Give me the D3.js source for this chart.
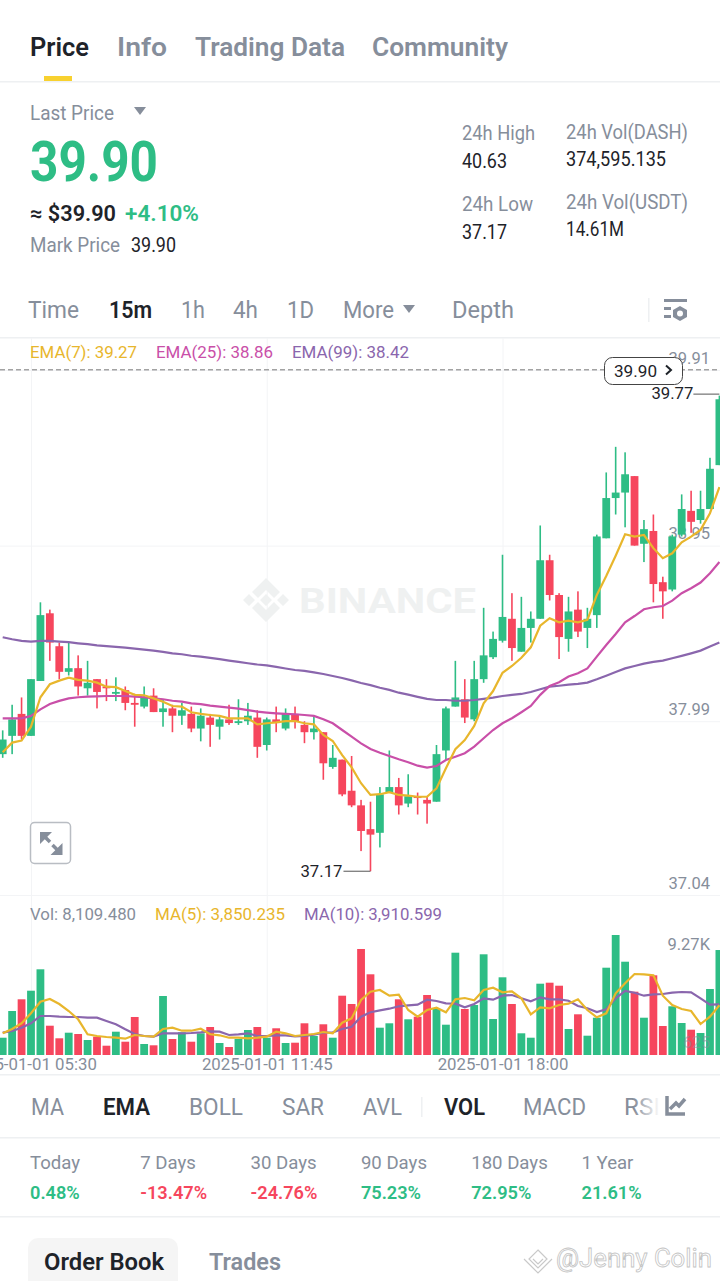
<!DOCTYPE html>
<html>
<head>
<meta charset="utf-8">
<script src="https://cdn.jsdelivr.net/npm/d3@7"></script>
<style>
  html, body { margin: 0; padding: 0; background: #fff; }
  svg { display: block; font-family: Roboto, "Noto Sans", sans-serif; }
  .tick line { stroke: #f3f4f6; }
  .domain { display: none; }
</style>
</head>
<body>
<div id="chart"></div>
<script>
const opens = [37.81,37.91,38.03,37.91,38.21,38.58,38.40,38.26,38.28,38.17,
  38.22,38.18,38.14,38.16,38.09,38.07,38.13,38.04,38.06,38.02,
  38.03,37.95,38.01,37.96,38.00,37.98,37.99,38.01,37.86,38.00,
  37.95,38.03,37.97,37.93,37.93,37.74,37.78,37.61,37.53,37.40,
  37.38,37.60,37.63,37.54,37.58,37.56,37.55,37.83,38.07,38.11,
  38.00,38.22,38.34,38.43,38.55,38.37,38.50,38.55,38.87,38.68,
  38.44,38.60,38.50,38.57,38.99,39.21,39.24,39.33,38.96,39.03,
  38.75,38.71,39.01,39.14,39.09,39.15,39.39];
const closes = [37.89,38.00,37.91,38.22,38.57,38.42,38.26,38.28,38.18,38.20,
  38.15,38.17,38.15,38.09,38.08,38.12,38.04,38.06,38.02,38.05,
  37.95,38.02,37.97,38.00,37.98,37.99,38.02,37.85,38.00,37.98,
  38.03,37.99,37.93,37.95,37.76,37.79,37.59,37.53,37.39,37.37,
  37.59,37.63,37.53,37.58,37.57,37.54,37.81,38.06,38.12,38.01,
  38.22,38.35,38.44,38.56,38.39,38.50,38.55,38.87,38.68,38.45,
  38.59,38.48,38.55,39.00,39.21,39.24,39.34,38.95,39.04,38.74,
  38.70,39.00,39.15,39.08,39.15,39.37,39.75];
const highs = [37.94,38.08,38.12,38.22,38.64,38.60,38.42,38.42,38.35,38.32,
  38.22,38.22,38.23,38.18,38.14,38.18,38.17,38.11,38.08,38.09,
  38.07,38.06,38.03,38.02,38.08,38.11,38.09,38.05,38.01,38.07,
  38.06,38.07,37.99,38.02,37.93,37.86,37.78,37.80,37.56,37.55,
  37.63,37.83,37.68,37.70,37.60,37.58,37.86,38.07,38.32,38.22,
  38.32,38.61,38.48,38.90,38.69,38.67,38.59,39.06,38.90,38.69,
  38.67,38.70,38.61,39.01,39.35,39.49,39.46,39.33,39.09,39.12,
  38.78,39.01,39.23,39.25,39.25,39.43,39.77];
const lows = [37.79,37.81,37.89,37.91,38.21,38.32,38.22,38.24,38.13,38.13,
  38.06,38.10,38.10,38.05,37.96,38.06,38.04,37.96,37.93,37.97,
  37.93,37.88,37.85,37.89,37.97,37.97,37.97,37.79,37.83,37.93,
  37.94,37.95,37.87,37.89,37.67,37.73,37.58,37.52,37.28,37.17,
  37.30,37.60,37.48,37.52,37.48,37.43,37.55,37.78,38.07,37.98,
  37.99,38.20,38.33,38.42,38.32,38.37,38.42,38.55,38.65,38.33,
  38.37,38.45,38.39,38.50,38.99,39.12,39.05,38.95,38.86,38.64,
  38.55,38.70,39.00,39.02,39.07,39.15,39.39];

const ema7 = [37.820,37.873,37.884,37.960,38.121,38.192,38.212,38.228,38.216,38.212,
  38.201,38.179,38.176,38.155,38.134,38.132,38.115,38.097,38.073,38.070,
  38.039,38.030,38.024,38.019,38.006,38.006,38.006,37.973,37.979,37.984,
  37.991,37.991,37.979,37.973,37.915,37.882,37.805,37.738,37.651,37.587,
  37.591,37.602,37.587,37.583,37.577,37.577,37.623,37.733,37.837,37.887,
  37.964,38.088,38.155,38.255,38.292,38.337,38.394,38.512,38.553,38.531,
  38.540,38.531,38.544,38.680,38.784,38.895,39.012,38.999,39.008,38.936,
  38.881,38.908,38.968,38.999,39.036,39.127,39.27];
const ema25 = [38.006,38.006,38.006,38.019,38.055,38.084,38.101,38.115,38.121,38.124,
  38.126,38.128,38.128,38.128,38.124,38.121,38.115,38.110,38.102,38.097,
  38.088,38.083,38.075,38.070,38.064,38.059,38.051,38.042,38.037,38.033,
  38.030,38.028,38.024,38.019,38.001,37.979,37.942,37.906,37.869,37.838,
  37.818,37.800,37.782,37.766,37.747,37.736,37.745,37.778,37.796,37.815,
  37.851,37.897,37.942,37.979,38.006,38.039,38.073,38.134,38.183,38.203,
  38.234,38.252,38.279,38.343,38.407,38.467,38.531,38.565,38.602,38.613,
  38.620,38.649,38.690,38.717,38.748,38.799,38.86];
const ema99 = [38.449,38.438,38.429,38.425,38.429,38.429,38.425,38.422,38.416,38.411,
  38.405,38.401,38.396,38.392,38.387,38.381,38.376,38.369,38.361,38.356,
  38.348,38.343,38.336,38.329,38.321,38.314,38.307,38.300,38.295,38.287,
  38.278,38.270,38.265,38.257,38.248,38.237,38.226,38.213,38.199,38.187,
  38.173,38.161,38.146,38.135,38.123,38.112,38.106,38.106,38.102,38.102,
  38.106,38.112,38.119,38.128,38.134,38.139,38.150,38.165,38.179,38.184,
  38.190,38.194,38.201,38.219,38.239,38.259,38.279,38.292,38.305,38.314,
  38.321,38.334,38.347,38.361,38.376,38.398,38.42];

const volumes = [1336,3399,4303,4967,6620,2263,1290,1723,1622,1159,
  1414,718,1800,1027,2936,850,749,4558,1236,1754,
  1027,1676,2163,927,618,1236,1931,2163,1336,2063,
  927,950,2449,1468,2372,1336,4581,3940,8189,6234,
  2109,2449,4303,2758,2959,4635,3554,2341,7903,3554,
  3863,7779,2781,6002,3940,1676,1336,5508,5585,5353,
  2009,3144,1491,2881,6744,9270,7207,4890,2881,6157,
  2240,3762,2472,1954,1700,5099,8109];
const ma5 = [1676,2009,2449,3221,4117,4326,3940,3399,2758,1599,
  1468,1391,1336,1259,1545,1468,1414,2009,2109,1877,
  1877,2032,1599,1522,1336,1336,1290,1336,1414,1800,
  1676,1468,1545,1622,1777,1676,2495,2835,4249,4890,
  5021,4581,4658,3476,2959,3476,3654,3299,4303,4403,
  4226,5021,5199,4844,4921,4380,3144,3685,3608,3863,
  3963,4303,3476,2912,3221,4766,5539,6257,6234,6157,
  4581,3863,3554,3399,2395,2959,3850];
const ma10 = [1723,1854,2109,2449,3013,3013,2959,2936,2936,2881,
  2881,2627,2372,1985,1622,1468,1414,1676,1676,1676,
  1700,1754,1831,1800,1545,1599,1676,1468,1468,1522,
  1522,1445,1468,1568,1723,1754,2009,2186,2959,3299,
  3453,3577,3762,3839,3886,4272,4172,3994,3963,3685,
  3940,4380,4272,4581,4635,4380,4148,4457,4303,4303,
  4195,3785,3608,3322,3530,4380,4944,4813,4581,4689,
  4712,4813,4867,4844,4380,3886,3910];

const priceTicks = [39.91, 38.95, 37.99, 37.04];
const volTicks = [9270, 625];
const timeTickIndex = [3, 28, 53];
const timeTickLabels = ["2025-01-01 05:30", "2025-01-01 11:45", "2025-01-01 18:00"];
const lastPrice = 39.90;

const statLabels = ["Today", "7 Days", "30 Days", "90 Days", "180 Days", "1 Year"];
const statValues = [0.48, -13.47, -24.76, 75.23, 72.95, 21.61];

const GREEN = "#2ebd85", RED = "#f6465d", GRAY = "#868e9b", DARK = "#1e2329", LINE = "#eef0f2";
const YELLOW = "#e8b62c", PINK = "#c94fa8", PURPLE = "#8a66ad";

const svg = d3.select("#chart").append("svg").attr("width", 720).attr("height", 1281);

// text helper, w stretches the string to the width
function label(parent, str, x, y, size, fill, weight, w, anchor) {
  const t = parent.append("text")
    .attr("x", x).attr("y", y)
    .attr("font-size", size).attr("fill", fill)
    .attr("font-weight", weight || 400)
    .text(str);
  if (w) t.attr("textLength", w).attr("lengthAdjust", "spacingAndGlyphs");
  if (anchor) t.attr("text-anchor", anchor);
  return t;
}
function hline(y) {
  svg.append("rect").attr("x", 0).attr("width", 720).attr("y", y).attr("height", 1.5).attr("fill", LINE);
}
function tri(x, y, w, h, fill) {
  svg.append("path").attr("d", `M${x},${y}h${w}l${-w / 2},${h}z`).attr("fill", fill);
}

// scales
const x = d3.scaleLinear().domain([0, 76]).range([2.7, 719.4]);
const y = d3.scaleLinear().domain([37.04, 39.91]).range([895, 370]);
const yVol = d3.scaleLinear().domain([0, 9270]).range([1055, 935]);
const bodyW = 7.8;

const candles = d3.range(opens.length).map((i) => ({
  i, open: opens[i], close: closes[i], high: highs[i], low: lows[i], vol: volumes[i],
  color: closes[i] >= opens[i] ? GREEN : RED,
}));

// header tabs
[["Price", 30, DARK, 59], ["Info", 117, GRAY, 50], ["Trading Data", 195, GRAY, 150], ["Community", 372, GRAY, 136]]
  .forEach((d) => label(svg, d[0], d[1], 56, 26, d[2], 600, d[3]));
svg.append("rect").attr("x", 44).attr("y", 76).attr("width", 28).attr("height", 5).attr("fill", "#f8d12f");
hline(81);

// ticker block
label(svg, "Last Price", 30, 120, 20, GRAY, 400, 84);
tri(134, 107, 12, 8, GRAY);
label(svg, "39.90", 30, 181, 56, GREEN, 700, 128);
label(svg, "≈ $39.90", 30, 221, 22, DARK, 600, 86);
label(svg, "+4.10%", 125, 221, 22, GREEN, 600, 74);
label(svg, "Mark Price", 30, 252, 20, GRAY, 400, 90);
label(svg, "39.90", 131, 252, 20, DARK, 400, 45);
label(svg, "24h High", 462, 140, 20, GRAY, 400, 73);
label(svg, "40.63", 462, 168, 20, DARK, 400, 45);
label(svg, "24h Low", 462, 211, 20, GRAY, 400, 71);
label(svg, "37.17", 462, 239, 20, DARK, 400, 45);
label(svg, "24h Vol(DASH)", 566, 139, 20, GRAY, 400, 122);
label(svg, "374,595.135", 566, 166, 20, DARK, 400, 100);
label(svg, "24h Vol(USDT)", 566, 209, 20, GRAY, 400, 122);
label(svg, "14.61M", 566, 236, 20, DARK, 400, 58);

// interval row
[["Time", 28, GRAY, 400, 51], ["15m", 109, DARK, 600, 43], ["1h", 181, GRAY, 400, 24],
  ["4h", 233, GRAY, 400, 25], ["1D", 287, GRAY, 400, 27], ["More", 343, GRAY, 400, 51], ["Depth", 452, GRAY, 400, 62]]
  .forEach((d) => label(svg, d[0], d[1], 318, 24, d[2], d[3], d[4]));
tri(403, 305, 12, 8, GRAY);
svg.append("rect").attr("x", 648).attr("y", 298).attr("width", 1.5).attr("height", 24).attr("fill", LINE);
const cfg = svg.append("g").attr("fill", GRAY);
cfg.append("rect").attr("x", 664).attr("y", 299).attr("width", 23).attr("height", 3);
cfg.append("rect").attr("x", 664).attr("y", 307).attr("width", 7).attr("height", 3);
cfg.append("rect").attr("x", 664).attr("y", 315).attr("width", 7).attr("height", 3);
cfg.append("path").attr("d", "M680,306l7,4v7l-7,4l-7,-4v-7z");
svg.append("circle").attr("cx", 680).attr("cy", 313.5).attr("r", 3).attr("fill", "#fff");
hline(337);

// gridlines and axis labels sit under the candles
const plot = svg.append("g");
const priceAxis = plot.append("g")
  .call(d3.axisRight(y).tickValues(priceTicks).tickSize(720).tickFormat(d3.format(".2f")));
priceAxis.selectAll("text")
  .attr("x", 710).attr("dy", -7).attr("text-anchor", "end")
  .attr("font-family", "Roboto").attr("font-size", 16.5).attr("fill", GRAY);

const timeAxis = plot.append("g").attr("transform", "translate(0,1055)")
  .call(d3.axisBottom(x).tickValues(timeTickIndex).tickSize(-717)
    .tickFormat((d, i) => timeTickLabels[i]));
timeAxis.selectAll("text")
  .attr("y", 15).attr("dy", 0)
  .attr("font-family", "Roboto").attr("font-size", 16.8).attr("fill", GRAY);

const volAxis = plot.append("g")
  .call(d3.axisRight(yVol).tickValues([volTicks[0]]).tickSize(0)
    .tickFormat((d) => (d / 1000).toFixed(2) + "K"));
volAxis.selectAll("text")
  .attr("x", 710).attr("dy", 14).attr("text-anchor", "end")
  .attr("font-family", "Roboto").attr("font-size", 16.5).attr("fill", GRAY);

// watermark
const mark = plot.append("g").attr("fill", "#eff1f1");
mark.append("path")
  .attr("d", "M266,578l14,14l-6,6l-8,-8l-8,8l-6,-6z M266,622l14,-14l-6,-6l-8,8l-8,-8l-6,6z M266,594l6,6l-6,6l-6,-6z M249,594l6,6l-6,6l-6,-6z M283,594l6,6l-6,6l-6,-6z");
label(mark, "BINANCE", 299, 613, 35, "#eff1f1", 700, 177);

// EMA legend
[["EMA(7): 39.27", 30, YELLOW, 107], ["EMA(25): 38.86", 156, PINK, 117], ["EMA(99): 38.42", 292, PURPLE, 117]]
  .forEach((d) => label(svg, d[0], d[1], 358, 16, d[2], 400, d[3]));

// last price line
svg.append("line").attr("x1", 0).attr("x2", 720)
  .attr("y1", y(lastPrice) - 2).attr("y2", y(lastPrice) - 2)
  .attr("stroke", "#777").attr("stroke-dasharray", "5,3");

// candles
const candleG = svg.append("g");
candleG.selectAll("rect.wick").data(candles).join("rect")
  .attr("class", "wick")
  .attr("x", (d) => x(d.i) - 0.8).attr("width", 1.6)
  .attr("y", (d) => y(d.high))
  .attr("height", (d) => y(d.low) - y(d.high))
  .attr("fill", (d) => d.color);
candleG.selectAll("rect.body").data(candles).join("rect")
  .attr("class", "body")
  .attr("x", (d) => x(d.i) - bodyW / 2).attr("width", bodyW)
  .attr("y", (d) => y(Math.max(d.open, d.close)))
  .attr("height", (d) => Math.max(1.8, Math.abs(y(d.open) - y(d.close))))
  .attr("fill", (d) => d.color);

const priceLine = d3.line().x((d, i) => x(i)).y((d) => y(d));
[[ema99, PURPLE], [ema25, PINK], [ema7, YELLOW]].forEach(([s, c]) => {
  svg.append("path").datum(s).attr("d", priceLine)
    .attr("fill", "none").attr("stroke", c).attr("stroke-width", 2.2);
});

// high and low markers
const hiIdx = d3.maxIndex(highs), loIdx = d3.minIndex(lows);
svg.append("line").attr("x1", x(hiIdx) - 26).attr("x2", x(hiIdx))
  .attr("y1", y(highs[hiIdx]) - 1.5).attr("y2", y(highs[hiIdx]) - 1.5).attr("stroke", "#555");
label(svg, highs[hiIdx].toFixed(2), x(hiIdx) - 26, y(highs[hiIdx]) + 3, 16, DARK, 400, 42, "end");
svg.append("line").attr("x1", x(loIdx) - 27).attr("x2", x(loIdx))
  .attr("y1", y(lows[loIdx])).attr("y2", y(lows[loIdx])).attr("stroke", "#555");
label(svg, lows[loIdx].toFixed(2), x(loIdx) - 28, y(lows[loIdx]) + 5.5, 16, DARK, 400, 42, "end");

// price pill
svg.append("rect").attr("x", 604.5).attr("y", 357.5).attr("width", 78).attr("height", 27).attr("rx", 8)
  .attr("fill", "#fff").attr("stroke", "#444").attr("stroke-width", 1);
label(svg, lastPrice.toFixed(2), 614, 377, 16, DARK, 400, 43);
svg.append("path").attr("d", "M666,365.5l5,4.5l-5,4.5").attr("fill", "none")
  .attr("stroke", DARK).attr("stroke-width", 2);

// expand button
svg.append("rect").attr("x", 30.5).attr("y", 822.5).attr("width", 40).attr("height", 41).attr("rx", 4)
  .attr("fill", "#fff").attr("stroke", "#b9bdc3").attr("stroke-width", 1.5);
svg.append("path").attr("fill", GRAY)
  .attr("d", "M40,832h12l-12,12z M62.5,855h-12l12,-12z");
svg.append("path").attr("fill", "none").attr("stroke", GRAY).attr("stroke-width", 3.5)
  .attr("d", "M45,837l5,5M57.5,850l-5,-5");

// volume panel
label(svg, "Vol: 8,109.480", 30, 920, 16, GRAY, 400, 106);
label(svg, "MA(5): 3,850.235", 155, 920, 16, YELLOW, 400, 130);
label(svg, "MA(10): 3,910.599", 304, 920, 16, PURPLE, 400, 138);
svg.append("g").selectAll("rect").data(candles).join("rect")
  .attr("x", (d) => x(d.i) - bodyW / 2).attr("width", bodyW)
  .attr("y", (d) => yVol(d.vol))
  .attr("height", (d) => yVol(0) - yVol(d.vol))
  .attr("fill", (d) => d.color);
const volLine = d3.line().x((d, i) => x(i)).y((d) => yVol(d));
[[ma10, PURPLE], [ma5, YELLOW]].forEach(([s, c]) => {
  svg.append("path").datum(s).attr("d", volLine)
    .attr("fill", "none").attr("stroke", c).attr("stroke-width", 2.2);
});
label(svg, String(volTicks[1]), 710, 1048, 16, GRAY, 400, null, "end").attr("fill-opacity", 0.55);
hline(1074);

// indicator tabs
[["MA", 31, GRAY, 400, 33], ["EMA", 103, DARK, 600, 47], ["BOLL", 189, GRAY, 400, 54], ["SAR", 282, GRAY, 400, 42],
  ["AVL", 363, GRAY, 400, 39], ["VOL", 444, DARK, 600, 41], ["MACD", 523, GRAY, 400, 63], ["RSI", 624, GRAY, 400, 36]]
  .forEach((d) => label(svg, d[0], d[1], 1115, 23, d[2], d[3], d[4]));
svg.append("rect").attr("x", 421).attr("y", 1097).attr("width", 1.5).attr("height", 20).attr("fill", LINE);
const fade = svg.append("defs").append("linearGradient").attr("id", "fade");
fade.append("stop").attr("offset", 0).attr("stop-color", "#fff").attr("stop-opacity", 0);
fade.append("stop").attr("offset", 1).attr("stop-color", "#fff");
svg.append("rect").attr("x", 634).attr("y", 1095).attr("width", 26).attr("height", 24).attr("fill", "url(#fade)");
svg.append("path").attr("fill", "none").attr("stroke", GRAY).attr("stroke-width", 3.5)
  .attr("d", "M667,1096v18h18M670,1109l6,-6l3,3l6,-7");
hline(1137);

// performance row
const statX = d3.scalePoint().domain(statLabels).range([30, 581.5]);
svg.append("g").selectAll("text.stat-label").data(statLabels).join("text")
  .attr("class", "stat-label")
  .attr("x", (d) => statX(d)).attr("y", 1169)
  .attr("font-size", 18.6).attr("fill", GRAY).text((d) => d);
svg.append("g").selectAll("text.stat-value").data(statValues).join("text")
  .attr("class", "stat-value")
  .attr("x", (d, i) => statX(statLabels[i])).attr("y", 1199)
  .attr("font-size", 18.2).attr("font-weight", 600)
  .attr("fill", (d) => (d >= 0 ? GREEN : RED))
  .text((d) => d.toFixed(2) + "%");
hline(1216);

// bottom tabs
svg.append("rect").attr("x", 28).attr("y", 1238).attr("width", 150).attr("height", 60).attr("rx", 10).attr("fill", "#f5f5f5");
label(svg, "Order Book", 44, 1270, 24, DARK, 600, 120);
label(svg, "Trades", 209, 1270, 24, GRAY, 600, 72);

// @Jenny Colin stamp
svg.append("path").attr("fill", "none").attr("stroke", "#c9c9c9").attr("stroke-width", 1.2)
  .attr("d", "M538,1250l9,9l-9,9l-9,-9zM524,1259l14,14l14,-14M533,1259l5,5l5,-5");
label(svg, "@Jenny Colin", 556, 1267, 25, "#fff", 400, 156)
  .attr("stroke", "#c4c4c4").attr("stroke-width", 0.8);
</script>
</body>
</html>
